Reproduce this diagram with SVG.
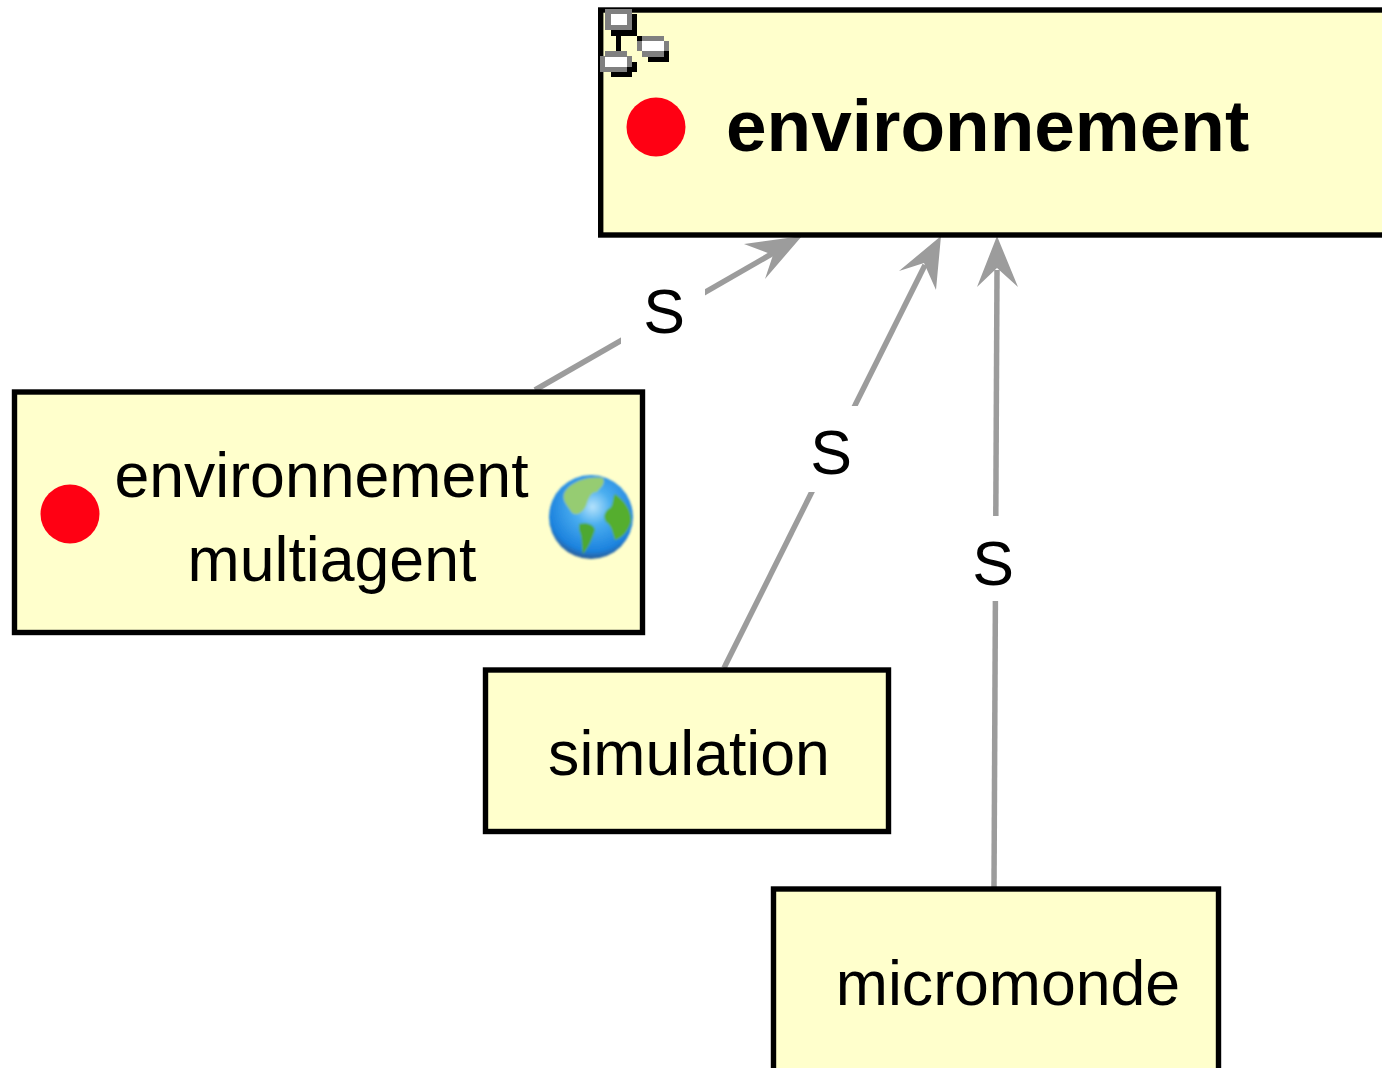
<svg xmlns="http://www.w3.org/2000/svg" width="1382" height="1068" viewBox="0 0 1382 1068">
<style>
.box{fill:#ffffcc;stroke:#000;stroke-width:5.4}
.t{font-family:"Liberation Sans",Arial,sans-serif;font-size:62.6px;fill:#000}
.b{font-weight:bold;font-size:73px}
.m{text-anchor:middle}
.e{stroke:#9c9c9c;stroke-width:5.5;fill:none}
.h{fill:#9c9c9c}
.dot{fill:#ff0013}
.g{fill:#808080}.w{fill:#fff}.k{fill:#000}
</style>
<defs>
<radialGradient id="sea" cx="0.52" cy="0.38" r="0.62"><stop offset="0" stop-color="#b4e2fb"/><stop offset="0.35" stop-color="#4aaef0"/><stop offset="0.85" stop-color="#1c82de"/><stop offset="1" stop-color="#2a5c96"/></radialGradient>
<filter id="soft" x="-10%" y="-10%" width="120%" height="120%"><feGaussianBlur stdDeviation="1.3"/></filter>
</defs>
<rect width="1382" height="1068" fill="#fff"/>
<g id="connectors">
<path class="e" d="M535 390L775 252"/><path class="h" d="M802 236L744 244L773 255L765 279Z"/>
<path class="e" d="M724 668L925 265"/><path class="h" d="M941 236L899 271L924 263L936 290Z"/>
<path class="e" d="M994 888L997 270"/><path class="h" d="M997 236L977 287L997 268L1018 287Z"/>
<g id="edge-labels">
<rect x="621" y="275" width="84" height="80" fill="#fff"/><text class="t m" x="664" y="333">S</text>
<rect x="790" y="406" width="84" height="86" fill="#fff"/><text class="t m" x="831" y="474">S</text>
<rect x="952" y="516" width="84" height="85" fill="#fff"/><text class="t m" x="993" y="585">S</text>
</g>
</g>
<g id="node-environnement">
<rect class="box" x="600.700" y="10" width="800" height="225"/>
<g id="package-icon">
<path class="k" d="M611 30h21V14h5v22h-16v15h-5V36h-5zM637 36h5v5h-5zM648 57h16v-6h5v11h-21zM627 62h10v10h-5v5h-21v-5h16z"/>
<path class="g" d="M605 9h27v21h-27zM642 36h22v5h5v10h-5v6h-22v-6h-5V41h5zM605 51h22v5h5v11h-5v5h-27V56h5z"/>
<path class="w" d="M611 14h16v11h-16zM642 41h22v10h-22zM605 57h22v10h-22z"/>
</g>
<circle class="dot" cx="656" cy="127" r="29.5"/>
<text class="t b" x="726" y="151">environnement</text>
</g>
<g id="node-environnement-multiagent">
<rect class="box" x="14.500" y="392" width="628" height="240.500"/>
<circle class="dot" cx="70" cy="514" r="29.5"/>
<text class="t m" x="321.500" y="497">environnement</text>
<text class="t m" x="332" y="581">multiagent</text>
<g id="globe" filter="url(#soft)">
<circle cx="591" cy="517" r="42" fill="url(#sea)"/>
<path d="M566 490C574 480 590 476 603 478C606 484 600 488 597 492C590 492 588 500 586 506C582 514 574 518 570 510C566 504 560 498 566 490Z" fill="#96cc72"/>
<path d="M579 524C586 522 594 524 595 530C592 538 590 546 583 554C581 546 583 538 579 530Z" fill="#4da832"/>
<path d="M615 494C624 500 632 510 631 522C628 532 622 538 615 540C612 532 612 526 606 522C602 516 606 510 610 508C614 504 612 498 615 494Z" fill="#55ae2e"/>
</g>
</g>
<g id="node-simulation">
<rect class="box" x="485.500" y="670" width="403" height="161.500"/>
<text class="t m" x="689" y="775">simulation</text>
</g>
<g id="node-micromonde">
<rect class="box" x="773.500" y="889" width="445" height="220"/>
<text class="t m" x="1008" y="1005">micromonde</text>
</g>
</svg>
